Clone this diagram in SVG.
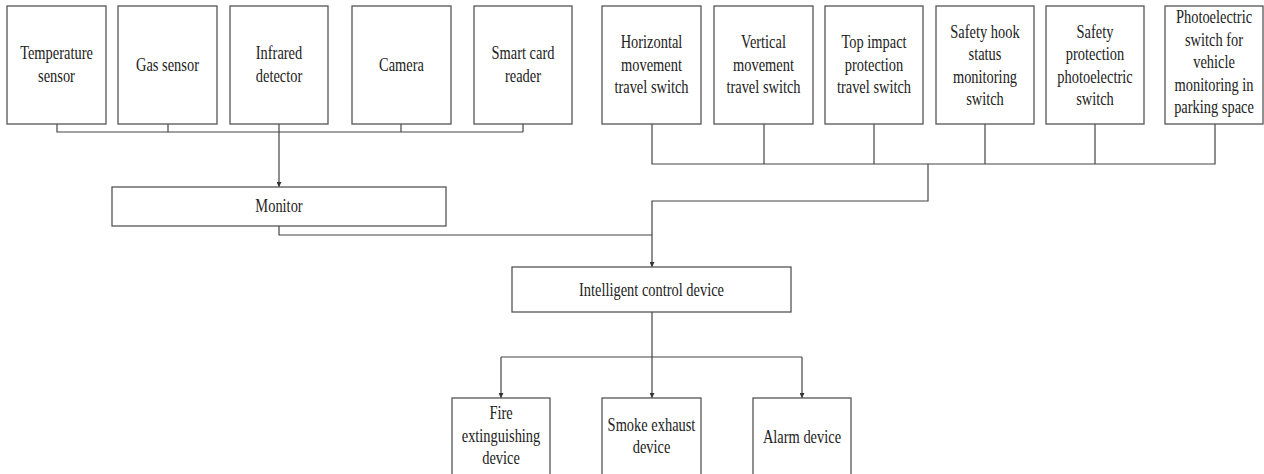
<svg xmlns="http://www.w3.org/2000/svg" width="1264" height="474" viewBox="0 0 1264 474">
<style>
.box{fill:#fff;stroke:#555;stroke-width:1.3}
.ln{fill:none;stroke:#444;stroke-width:1.2}
.t{font-family:"Liberation Serif","Times New Roman",serif;font-size:19px;fill:#222;text-anchor:middle}
</style>
<defs>
<marker id="ah" viewBox="0 0 10 10" refX="10" refY="5" markerWidth="5" markerHeight="5" orient="auto" markerUnits="userSpaceOnUse">
<path d="M0,0 L10,5 L0,10 z" fill="#333"/>
</marker>
</defs>
<rect width="1264" height="474" fill="#fff"/>
<g id="connectors">
<path class="ln" d="M57,124V132H523M168,124V132M401,124V132M523,124V132"/>
<path class="ln" d="M279,124V187" marker-end="url(#ah)"/>
<path class="ln" d="M652,124V164H1215V124M764,124V164M874,124V164M985,124V164M1095,124V164"/>
<path class="ln" d="M928,164V201H652V267" marker-end="url(#ah)"/>
<path class="ln" d="M279,226V235H652"/>
<path class="ln" d="M652,312V357M501,357H802"/>
<path class="ln" d="M501,357V398" marker-end="url(#ah)"/>
<path class="ln" d="M652,357V398" marker-end="url(#ah)"/>
<path class="ln" d="M802,357V398" marker-end="url(#ah)"/>
</g>
<g id="temperature">
<rect class="box" x="7" y="6" width="99" height="118"/>
<text class="t" transform="matrix(0.76,0,0,1,56.5,0)"><tspan x="0" y="59.5">Temperature</tspan><tspan x="0" y="82">sensor</tspan></text>
</g>
<g id="gas">
<rect class="box" x="118" y="6" width="99" height="118"/>
<text class="t" transform="matrix(0.76,0,0,1,167.5,0)"><tspan x="0" y="71">Gas sensor</tspan></text>
</g>
<g id="infrared">
<rect class="box" x="230" y="6" width="98" height="118"/>
<text class="t" transform="matrix(0.76,0,0,1,279,0)"><tspan x="0" y="59.5">Infrared</tspan><tspan x="0" y="82">detector</tspan></text>
</g>
<g id="camera">
<rect class="box" x="352" y="6" width="99" height="118"/>
<text class="t" transform="matrix(0.76,0,0,1,401.5,0)"><tspan x="0" y="71">Camera</tspan></text>
</g>
<g id="smartcard">
<rect class="box" x="474" y="6" width="98" height="118"/>
<text class="t" transform="matrix(0.76,0,0,1,523,0)"><tspan x="0" y="59.5">Smart card</tspan><tspan x="0" y="82">reader</tspan></text>
</g>
<g id="horizontal">
<rect class="box" x="602" y="6" width="99" height="118"/>
<text class="t" transform="matrix(0.76,0,0,1,651.5,0)"><tspan x="0" y="48.5">Horizontal</tspan><tspan x="0" y="71">movement</tspan><tspan x="0" y="93.5">travel switch</tspan></text>
</g>
<g id="vertical">
<rect class="box" x="714" y="6" width="99" height="118"/>
<text class="t" transform="matrix(0.76,0,0,1,763.5,0)"><tspan x="0" y="48.5">Vertical</tspan><tspan x="0" y="71">movement</tspan><tspan x="0" y="93.5">travel switch</tspan></text>
</g>
<g id="topimpact">
<rect class="box" x="825" y="6" width="98" height="118"/>
<text class="t" transform="matrix(0.76,0,0,1,874,0)"><tspan x="0" y="48.5">Top impact</tspan><tspan x="0" y="71">protection</tspan><tspan x="0" y="93.5">travel switch</tspan></text>
</g>
<g id="safetyhook">
<rect class="box" x="936" y="6" width="98" height="118"/>
<text class="t" transform="matrix(0.76,0,0,1,985,0)"><tspan x="0" y="38">Safety hook</tspan><tspan x="0" y="60.5">status</tspan><tspan x="0" y="83">monitoring</tspan><tspan x="0" y="105.5">switch</tspan></text>
</g>
<g id="safetyprotection">
<rect class="box" x="1046" y="6" width="98" height="118"/>
<text class="t" transform="matrix(0.76,0,0,1,1095,0)"><tspan x="0" y="38">Safety</tspan><tspan x="0" y="60.5">protection</tspan><tspan x="0" y="83">photoelectric</tspan><tspan x="0" y="105.5">switch</tspan></text>
</g>
<g id="photoelectric">
<rect class="box" x="1165" y="6" width="98" height="118"/>
<text class="t" transform="matrix(0.76,0,0,1,1214,0)"><tspan x="0" y="23.5">Photoelectric</tspan><tspan x="0" y="46">switch for</tspan><tspan x="0" y="68.5">vehicle</tspan><tspan x="0" y="91">monitoring in</tspan><tspan x="0" y="113.5">parking space</tspan></text>
</g>
<g id="monitor">
<rect class="box" x="112" y="187" width="334" height="39"/>
<text class="t" transform="matrix(0.76,0,0,1,279,0)"><tspan x="0" y="212.5">Monitor</tspan></text>
</g>
<g id="intelligent">
<rect class="box" x="512" y="267" width="279" height="45"/>
<text class="t" transform="matrix(0.76,0,0,1,651.5,0)"><tspan x="0" y="296">Intelligent control device</tspan></text>
</g>
<g id="fire">
<rect class="box" x="452" y="398" width="98" height="82"/>
<text class="t" transform="matrix(0.76,0,0,1,501,0)"><tspan x="0" y="419.5">Fire</tspan><tspan x="0" y="442">extinguishing</tspan><tspan x="0" y="464.5">device</tspan></text>
</g>
<g id="smoke">
<rect class="box" x="602" y="398" width="99" height="82"/>
<text class="t" transform="matrix(0.76,0,0,1,651.5,0)"><tspan x="0" y="431">Smoke exhaust</tspan><tspan x="0" y="453.5">device</tspan></text>
</g>
<g id="alarm">
<rect class="box" x="753" y="398" width="98" height="82"/>
<text class="t" transform="matrix(0.76,0,0,1,802,0)"><tspan x="0" y="443">Alarm device</tspan></text>
</g>
</svg>
